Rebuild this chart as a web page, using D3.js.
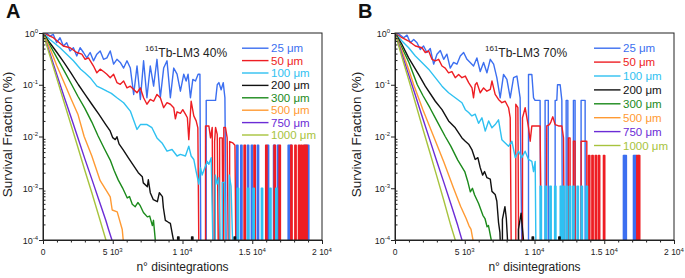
<!DOCTYPE html>
<html>
<head>
<meta charset="utf-8">
<script src="https://cdn.jsdelivr.net/npm/d3@7"></script>
<style>
body { margin: 0; background: #fff; overflow: hidden; }
svg { font-family: Arial, "Liberation Sans", Helvetica, sans-serif; }
</style>
</head>
<body>
<script>
// ---------------- data ----------------
var sizes = ["25 μm", "50 μm", "100 μm", "200 μm", "300 μm", "500 μm", "750 μm", "1000 μm"];
var colors = ["#3c6ff0", "#ee1d23", "#2fc1f1", "#111111", "#1b8a1b", "#ff9a33", "#6b2cd6", "#a7c33d"];

var xTicks = [0, 5000, 10000, 15000, 20000];
var xTickBase = ["0", "5 10", "1 10", "1.5 10", "2 10"];
var xTickExp = ["", "3", "4", "4", "4"];
var yTicks = [1, 0.1, 0.01, 0.001, 0.0001];
var yTickExp = ["0", "-1", "-2", "-3", "-4"];

// [n disintegrations, survival fraction]; 0 = nothing left (drawn off the log axis)
// panel A : 161Tb-LM3 40%
var a25 = [[0,1],[260,1],[500,0.87],[740,0.94],[980,0.65],[1220,0.81],[1460,0.56],[1700,0.65],[1940,0.45],[2180,0.52],[2420,0.36],[2660,0.52],[2900,0.42],[3140,0.33],[3380,0.42],[3620,0.29],[3860,0.39],[4100,0.45],[4340,0.31],[4580,0.33],[4820,0.45],[5060,0.25],[5300,0.31],[5540,0.27],[5780,0.21],[6020,0.29],[6260,0.21],[6500,0.065],[6740,0.23],[6980,0.052],[7210,0.29],[7450,0.056],[7690,0.23],[7930,0.094],[8170,0.31],[8410,0.056],[8650,0.21],[8890,0.29],[9130,0.056],[9370,0.21],[9610,0.16],[9850,0.075],[10090,0.16],[10260,0.118],[10400,0.16],[10570,0.056],[10740,0.127],[10930,0.118],[11120,0.16],[11250,0.16],[11310,0],[11700,0],[11700,0.05],[12370,0.05],[12490,0.1],[12610,0.11],[12770,0.08],[12920,0.11],[13040,0.056],[13130,0]];
var a50 = [[0,1],[740,0.81],[1460,0.56],[1940,0.52],[2420,0.42],[2780,0.39],[3020,0.31],[3260,0.33],[3620,0.23],[3860,0.17],[4100,0.2],[4340,0.18],[4580,0.16],[4820,0.137],[5060,0.16],[5300,0.11],[5540,0.102],[5780,0.118],[6020,0.087],[6260,0.094],[6500,0.081],[6740,0.07],[6980,0.087],[7210,0.056],[7450,0.042],[7690,0.052],[7930,0.048],[8170,0.065],[8410,0.056],[8650,0.036],[8890,0.045],[9130,0.042],[9370,0.036],[9490,0.022],[9610,0.03],[9850,0.028],[10020,0.033],[10210,0.027],[10350,0.023],[10450,0.0087],[10620,0.048],[10810,0.025],[10980,0.02],[11100,0.0147],[11170,0],[11650,0],[11650,0.016],[11890,0.016],[12010,0.0094],[12130,0.015],[12180,0],[12300,0],[12300,0.008],[12370,0.015],[12490,0.011],[12560,0],[12660,0],[12660,0.0094],[12850,0.0094],[12900,0],[12960,0],[12960,0.015],[13080,0.015],[13200,0.0094],[13280,0],[13380,0],[13380,0.008],[13610,0.0075],[13760,0.0068],[13820,0]];
var a100 = [[0,1],[500,0.75],[1220,0.52],[2180,0.29],[2700,0.2],[3000,0.17],[3380,0.137],[3860,0.094],[4200,0.085],[4580,0.075],[4900,0.068],[5300,0.056],[5780,0.045],[6260,0.031],[6740,0.0137],[6980,0.017],[7460,0.017],[7810,0.0148],[8170,0.0094],[8530,0.0075],[8890,0.0052],[9250,0.0056],[9610,0.0042],[9850,0.0045],[10210,0.0042],[10450,0.0065],[10620,0.0042],[10810,0.0036],[10980,0.0021],[11170,0.0012],[11290,0.0025],[11410,0.0018],[11600,0.0025],[11770,0.0033],[11890,0.0029],[12060,0.0039],[12180,0],[12350,0],[12350,0.0018],[12480,0.0012],[12600,0.0016],[12700,0],[12850,0],[12850,0.0013],[13000,0.0013],[13100,0],[13350,0],[13350,0.0018],[13480,0.0011],[13600,0]];
var a200 = [[0,1],[500,0.64],[1000,0.42],[1500,0.27],[2000,0.17],[2540,0.1],[3000,0.066],[3500,0.042],[4000,0.027],[4500,0.017],[4800,0.013],[5000,0.0095],[5180,0.0087],[5300,0.0099],[5450,0.0072],[5750,0.0055],[6110,0.0039],[6470,0.0028],[6830,0.002],[7120,0.00166],[7190,0.00127],[7480,0.00107],[7550,0.00146],[7690,0.00082],[7910,0.0006],[8200,0.00055],[8340,0.00082],[8560,0.00069],[8630,0.00042],[8770,0.00024],[8990,0.00022],[9130,0.00021],[9280,0.000125],[9350,0.0001],[9400,0]];
var a300 = [[0,1],[500,0.58],[1000,0.33],[1500,0.19],[2060,0.1],[2500,0.06],[3000,0.035],[3500,0.019],[3950,0.0102],[4400,0.0058],[4820,0.0035],[5100,0.0022],[5390,0.00145],[5700,0.00102],[6040,0.00065],[6200,0.00069],[6400,0.00049],[6610,0.00044],[6800,0.00053],[6970,0.00046],[7200,0.00034],[7480,0.00028],[7650,0.00029],[7840,0.00019],[7920,0.00024],[7980,0.00016],[8050,0.0001],[8100,0]];
var a500 = [[0,1],[500,0.5],[1000,0.23],[1580,0.1],[2000,0.054],[2500,0.027],[2950,0.01],[3500,0.0042],[4100,0.0014],[4600,0.00085],[4820,0.00068],[4960,0.00038],[5320,0.00035],[5680,0.00016],[5750,0.0001],[5800,0]];
var a750 = [[0,1],[500,0.4],[1000,0.155],[1500,0.06],[2000,0.024],[2500,0.0095],[3000,0.0037],[3500,0.0015],[4000,0.0006],[4500,0.00024],[4700,0.00016],[4940,0.0001],[4980,0]];
var a1000 = [[0,1],[500,0.36],[1000,0.13],[1500,0.047],[2000,0.017],[2500,0.0062],[3000,0.0022],[3500,0.00082],[4000,0.00029],[4510,0.0001],[4540,0]];

// isolated one-cell survivals (n where a thin spike appears)
var spikesA25 = [13880, 14170, 14650, 14930, 15360, 16080, 16520, 16800, 17570, 17710, 18770, 18960];
var spikesA50 = [14410, 15120, 15960, 16560, 16920, 17760, 18050, 18310, 18480, 18670, 18840];
var spikesA100 = [13930, 14650, 15050, 15650, 16250, 16680];
var blipsA200 = [9650, 10650, 13700];

// panel B : 161Tb-LM3 70%
var b25 = [[0,1],[260,0.97],[620,0.81],[860,0.91],[1100,0.65],[1340,0.75],[1580,0.65],[1810,0.48],[2050,0.56],[2290,0.42],[2530,0.5],[2770,0.25],[3010,0.39],[3250,0.46],[3490,0.31],[3720,0.39],[3960,0.21],[4200,0.27],[4440,0.25],[4680,0.36],[4920,0.42],[5160,0.31],[5390,0.27],[5630,0.23],[5870,0.33],[6110,0.18],[6350,0.27],[6590,0.17],[6830,0.31],[7070,0.25],[7300,0.137],[7540,0.056],[7780,0.158],[8020,0.127],[8260,0.056],[8500,0.137],[8740,0.147],[8970,0.056],[9090,0],[9570,0],[9570,0.158],[9810,0.158],[9930,0.056],[10040,0.05],[10400,0.05],[10450,0],[10760,0],[10760,0.05],[10990,0.05],[10990,0],[11480,0],[11480,0.05],[11600,0.05],[11650,0.1],[11840,0.1],[11960,0.05],[12000,0],[12270,0],[12270,0.05],[12390,0.05],[12390,0],[12790,0],[12790,0.05],[12910,0.05],[12910,0],[13340,0],[13340,0.05],[13630,0.05],[13630,0]];
var b50 = [[0,1],[500,0.81],[980,0.7],[1460,0.56],[1930,0.52],[2170,0.42],[2410,0.45],[2650,0.31],[2890,0.29],[3130,0.31],[3370,0.23],[3600,0.21],[3840,0.17],[4080,0.18],[4320,0.137],[4560,0.158],[4800,0.137],[5040,0.147],[5280,0.11],[5520,0.087],[5630,0.056],[5750,0.1],[5870,0.11],[6110,0.07],[6350,0.087],[6590,0.075],[6830,0.081],[6950,0.118],[7180,0.065],[7420,0.052],[7660,0.045],[7900,0.048],[8140,0.036],[8260,0.023],[8330,0],[8660,0],[8660,0.042],[8810,0.036],[8860,0],[9140,0],[9140,0.023],[9330,0.036],[9570,0.015],[9690,0.0081],[9810,0.016],[10400,0.016],[10480,0],[10850,0],[10880,0.016],[11070,0.017],[11170,0.019],[11310,0.024],[11480,0.017],[11720,0.016],[11960,0.016],[12080,0.0094],[12130,0],[12430,0],[12430,0.0094],[12550,0.0094],[12550,0],[12790,0],[12790,0.0081],[12910,0.0081],[12910,0],[13340,0],[13340,0.0081],[13750,0.0081],[13750,0]];
var b100 = [[0,1],[500,0.7],[980,0.52],[1460,0.36],[1930,0.27],[2410,0.2],[2890,0.137],[3370,0.094],[3840,0.07],[4320,0.056],[4800,0.045],[5040,0.033],[5280,0.029],[5510,0.025],[5750,0.027],[5990,0.018],[6230,0.023],[6470,0.0127],[6710,0.02],[6950,0.0147],[7180,0.017],[7420,0.021],[7660,0.0087],[7900,0.0075],[8140,0.0065],[8380,0.0081],[8620,0.0039],[8860,0.0052],[9090,0.0039],[9330,0.0052],[9570,0.0036],[9810,0.0033],[9930,0.0021],[10050,0.0033],[10100,0]];
var b200 = [[0,1],[500,0.6],[980,0.33],[1690,0.158],[2170,0.094],[2890,0.048],[3370,0.033],[3840,0.02],[4320,0.0147],[4800,0.0094],[5040,0.0081],[5280,0.0071],[5510,0.0056],[5750,0.0036],[5940,0.0039],[6110,0.0025],[6280,0.0018],[6420,0.0021],[6590,0.0016],[6830,0.0015],[6950,0.00087],[7180,0.00076],[7300,0.00056],[7420,0.00022],[7520,0.00014],[7560,0],[7700,0],[7700,0.00025],[7880,0.00044],[7980,0.00026],[8090,0],[8850,0],[8850,0.00016],[9040,0.00033],[9150,0.00015],[9250,0]];
var b300 = [[0,1],[500,0.52],[1000,0.27],[1600,0.1],[2000,0.062],[2500,0.036],[3000,0.02],[3600,0.01],[4000,0.0065],[4500,0.0035],[5000,0.0021],[5200,0.0014],[5400,0.00085],[5550,0.001],[5700,0.00075],[6000,0.0005],[6300,0.0003],[6450,0.00026],[6600,0.00018],[6700,0.00019],[6900,0.0001],[6950,0]];
var b500 = [[0,1],[500,0.45],[1000,0.19],[1340,0.1],[2000,0.033],[2770,0.01],[3500,0.0032],[4200,0.001],[4700,0.00045],[5100,0.00026],[5300,0.00019],[5450,0.00016],[5590,0.0001],[5620,0]];
var b750 = [[0,1],[500,0.39],[1000,0.15],[1500,0.058],[2000,0.022],[2500,0.0085],[3000,0.0033],[3500,0.0013],[4000,0.0005],[4500,0.00019],[4800,0.0001],[4830,0]];
var b1000 = [[0,1],[500,0.34],[1000,0.12],[1500,0.041],[2000,0.014],[2500,0.0049],[3000,0.0017],[3500,0.00058],[4000,0.00019],[4320,0.0001],[4350,0]];

var spikesB25 = [16370, 16490, 17090, 17210];
var spikesB50 = [13870, 14110, 14350, 14580, 14940, 17330, 17450];
var spikesB100 = [10400, 10760, 11100, 11440, 11840, 12030, 12270, 12500, 12740, 13050, 13340, 13700];
var blipsB200 = [9830, 11740];

// spike heights (one surviving cell)
var levelA = 0.0068, levelB = 0.0043, cyanLevelA = 0.001, cyanLevelB = 0.0011, blipLevel = 0.000115;

// ---------------- drawing ----------------
var svg = d3.select("body").append("svg").attr("width", 685).attr("height", 278);
var plotW = 279, plotH = 207, plotTop = 33;

function withSpikes(points, spikes, level) {
    var out = points.slice();
    spikes.forEach(function (n) {
        out.push([n, 0], [n, level], [n + 100, level], [n + 100, 0]);
    });
    return out;
}

var panels = [
    { left: 43, letter: "A", title: "Tb-LM3 40%", titleX: 102, legGap: 12.4, yTitleOff: 31,
      series: [withSpikes(a25, spikesA25, levelA), withSpikes(a50, spikesA50, levelA),
               withSpikes(a100, spikesA100, cyanLevelA), withSpikes(a200, blipsA200, blipLevel),
               a300, a500, a750, a1000] },
    { left: 395, letter: "B", title: "Tb-LM3 70%", titleX: 90, legGap: 13.9, yTitleOff: 34,
      series: [withSpikes(b25, spikesB25, levelB), withSpikes(b50, spikesB50, levelB),
               withSpikes(b100, spikesB100, cyanLevelB), withSpikes(b200, blipsB200, blipLevel),
               b300, b500, b750, b1000] }
];

var xMinor = d3.range(1000, 20000, 1000).filter(function (d) { return d % 5000 !== 0; });
var yMinor = [];
for (var e = -4; e < 0; e++) {
    for (var k = 2; k < 10; k++) yMinor.push(k * Math.pow(10, e));
}

panels.forEach(function (p) {
    var g = svg.append("g").attr("transform", "translate(" + p.left + "," + plotTop + ")");
    var x = d3.scaleLinear().domain([0, 20000]).range([0, plotW]);
    var y = d3.scaleLog().domain([1e-4, 1]).range([plotH, 0]);

    g.append("clipPath").attr("id", "clip" + p.letter)
        .append("rect").attr("width", plotW).attr("height", plotH);

    var line = d3.line()
        .x(function (d) { return x(d[0]); })
        .y(function (d) { return d[1] > 0 ? y(d[1]) : plotH + 6; });

    var plot = g.append("g").attr("clip-path", "url(#clip" + p.letter + ")");
    p.series.forEach(function (s, i) {
        plot.append("path")
            .datum(s)
            .attr("d", line)
            .attr("fill", "none")
            .attr("stroke", colors[i])
            .attr("stroke-width", 1.4)
            .attr("stroke-linejoin", "round");
    });

    // frame
    g.append("rect").attr("width", plotW).attr("height", plotH)
        .attr("fill", "none").attr("stroke", "#222").attr("stroke-width", 1);

    // x axis
    g.append("g").attr("transform", "translate(0," + plotH + ")")
        .call(d3.axisBottom(x).tickValues(xTicks).tickSize(4).tickSizeOuter(0).tickFormat(""));
    var xm = g.append("g").attr("transform", "translate(0," + plotH + ")")
        .call(d3.axisBottom(x).tickValues(xMinor).tickSize(2.5).tickFormat(""));
    xm.select(".domain").remove();

    // y axis: major outward, minor inward
    g.append("g")
        .call(d3.axisLeft(y).tickValues(yTicks).tickSize(4).tickSizeOuter(0).tickFormat(""));
    var ym = g.append("g")
        .call(d3.axisRight(y).tickValues(yMinor).tickSize(2.5).tickFormat(""));
    ym.select(".domain").remove();
    g.selectAll(".tick line").attr("stroke", "#222");
    g.selectAll(".domain").attr("stroke", "#222");

    xTicks.forEach(function (t, i) {
        var tx = g.append("text").attr("x", x(t)).attr("y", plotH + 15)
            .attr("text-anchor", "middle").attr("font-size", 8.5).attr("fill", "#222");
        tx.append("tspan").text(xTickBase[i]);
        if (xTickExp[i]) tx.append("tspan").attr("dy", -3.5).attr("font-size", 6).text(xTickExp[i]);
    });
    yTicks.forEach(function (t, i) {
        var ty = g.append("text").attr("x", -5).attr("y", y(t) + 3.5)
            .attr("text-anchor", "end").attr("font-size", 9).attr("fill", "#222");
        ty.append("tspan").text("10");
        ty.append("tspan").attr("dy", -4).attr("font-size", 6).text(yTickExp[i]);
    });

    // axis titles
    g.append("text")
        .attr("transform", "translate(" + (-p.yTitleOff) + "," + (plotH / 2 - 2) + ") rotate(-90)")
        .attr("text-anchor", "middle").attr("font-size", 13.5).attr("fill", "#222")
        .text("Survival Fraction (%)");
    g.append("text").attr("x", plotW / 2).attr("y", plotH + 31)
        .attr("text-anchor", "middle").attr("font-size", 12).attr("fill", "#222")
        .text("n° disintegrations");

    // panel letter
    g.append("text").attr("x", -37).attr("y", -15.5)
        .attr("font-size", 20).attr("font-weight", "bold").attr("fill", "#111")
        .text(p.letter);

    // inset title
    var tt = g.append("text").attr("x", p.titleX).attr("y", 24).attr("fill", "#222");
    tt.append("tspan").attr("font-size", 8).attr("dy", -6).text("161");
    tt.append("tspan").attr("font-size", 12).attr("dy", 6).text(p.title);

    // legend
    var leg = g.selectAll(".leg").data(sizes).enter().append("g")
        .attr("transform", function (d, i) { return "translate(199," + (15.2 + i * p.legGap) + ")"; });
    leg.append("line").attr("x1", 0).attr("x2", 26.5).attr("y1", 0).attr("y2", 0)
        .attr("stroke", function (d, i) { return colors[i]; }).attr("stroke-width", 1.4);
    leg.append("text").attr("x", 29).attr("y", 4)
        .attr("font-size", 11.5)
        .attr("fill", function (d, i) { return colors[i]; })
        .text(function (d) { return d; });
});
</script>
</body>
</html>
